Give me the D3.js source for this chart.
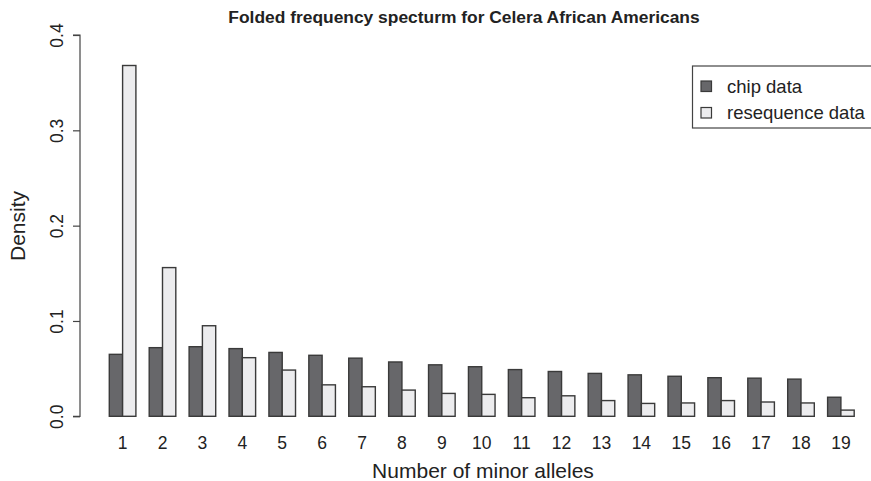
<!DOCTYPE html>
<html>
<head>
<meta charset="utf-8">
<script src="https://cdn.jsdelivr.net/npm/d3@7"></script>
<style>
  body { margin: 0; background: #fff; }
  text { font-family: "Liberation Sans", Arial, sans-serif; fill: #222; }
</style>
</head>
<body>
<svg id="chart" width="871" height="481"></svg>
<script>
// minor allele counts (groups)
const alleles = [1, 2, 3, 4, 5, 6, 7, 8, 9, 10, 11, 12, 13, 14, 15, 16, 17, 18, 19];
const chipData = [0.065, 0.072, 0.073, 0.071, 0.067, 0.064, 0.061, 0.057, 0.054, 0.052,
    0.049, 0.047, 0.045, 0.0435, 0.042, 0.0405, 0.040, 0.039, 0.020];
const reseqData = [0.368, 0.156, 0.095, 0.0615, 0.0485, 0.033, 0.031, 0.0275, 0.024, 0.023,
    0.0195, 0.0215, 0.0165, 0.0135, 0.014, 0.0165, 0.015, 0.014, 0.0065];
const yTicks = [0, 0.1, 0.2, 0.3, 0.4];
const seriesNames = ["chip data", "resequence data"];
const seriesColors = ["#67676a", "#ececee"];

let svg = d3.select("#chart");

// barplot units: each bar is 1 unit wide, 1 unit gap between groups
let xScale = d3.scaleLinear().domain([-1.24, 59.24]).range([79.5, 884]);
let yScale = d3.scaleLinear().domain([0, 0.4]).range([416.3, 35]);

let rows = [];
alleles.forEach((a, i) => {
    let start = 1 + i * 3;
    rows.push({ x0: start, v: chipData[i], s: 0 });
    rows.push({ x0: start + 1, v: reseqData[i], s: 1 });
});

svg.selectAll(".bar")
    .data(rows)
    .enter()
    .append("rect")
    .attr("class", "bar")
    .attr("x", d => xScale(d.x0))
    .attr("y", d => yScale(d.v))
    .attr("width", xScale(1) - xScale(0))
    .attr("height", d => yScale(0) - yScale(d.v))
    .attr("fill", d => seriesColors[d.s])
    .attr("stroke", "#3a3a3a")
    .attr("stroke-width", 1.4);

// y axis
let yAxis = d3.axisLeft(yScale)
    .tickValues(yTicks)
    .tickSize(7)
    .tickPadding(0)
    .tickFormat(d3.format(".1f"));

let axisY = svg.append("g").attr("transform", "translate(80,0)").call(yAxis);
axisY.select(".domain").attr("d", `M-7,${yScale(0)}H0V${yScale(0.4)}H-7`).attr("stroke", "#444").attr("stroke-width", 1.2);
axisY.selectAll(".tick line").attr("stroke", "#444").attr("stroke-width", 1.2);
axisY.selectAll(".tick text")
    .attr("x", 0).attr("y", 0).attr("dy", null)
    .attr("transform", "translate(-17,0) rotate(-90)")
    .attr("text-anchor", "middle")
    .attr("font-size", 17.5)
    .attr("font-family", "Liberation Sans, Arial, sans-serif")
    .attr("fill", "#222");

// x labels (no axis line, like barplot names)
svg.selectAll(".xlab")
    .data(alleles)
    .enter()
    .append("text")
    .attr("class", "xlab")
    .attr("x", (d, i) => xScale(2 + i * 3))
    .attr("y", 449)
    .attr("text-anchor", "middle")
    .attr("font-size", 17.5)
    .text(d => d);

svg.append("text")
    .attr("x", 483)
    .attr("y", 478)
    .attr("text-anchor", "middle")
    .attr("font-size", 21)
    .text("Number of minor alleles");

svg.append("text")
    .attr("transform", "translate(25,226) rotate(-90)")
    .attr("text-anchor", "middle")
    .attr("font-size", 21)
    .text("Density");

svg.append("text")
    .attr("x", 464)
    .attr("y", 23)
    .attr("text-anchor", "middle")
    .attr("font-size", 17.4)
    .attr("font-weight", "bold")
    .text("Folded frequency specturm for Celera African Americans");

// legend
let legend = svg.append("g");
legend.append("rect")
    .attr("x", 692.5).attr("y", 66)
    .attr("width", 200).attr("height", 62)
    .attr("fill", "none").attr("stroke", "#444").attr("stroke-width", 1.2);

seriesNames.forEach((name, i) => {
    legend.append("rect")
        .attr("x", 701).attr("y", 81 + i * 26.5)
        .attr("width", 10.5).attr("height", 10.5)
        .attr("fill", seriesColors[i])
        .attr("stroke", "#3a3a3a").attr("stroke-width", 1.2);
    legend.append("text")
        .attr("x", 727).attr("y", 92.5 + i * 26.5)
        .attr("font-size", 18.5)
        .text(name);
});
</script>
</body>
</html>
